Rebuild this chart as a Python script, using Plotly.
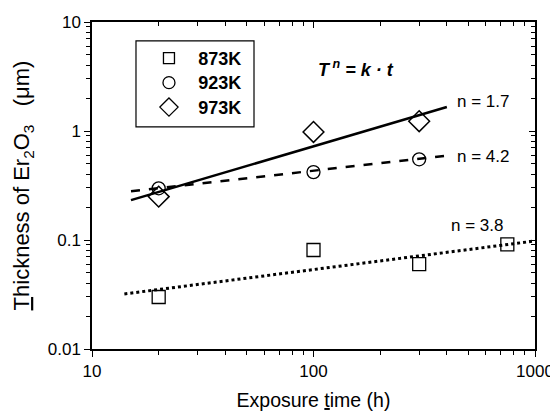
import plotly.graph_objects as go

# Data
time_873 = [20, 100, 300, 750]
thk_873 = [0.030, 0.081, 0.060, 0.091]
time_923 = [20, 100, 300]
thk_923 = [0.298, 0.42, 0.55]
time_973 = [20, 100, 300]
thk_973 = [0.25, 0.98, 1.23]

fit_973_t = [15, 400]
fit_973_y = [0.232, 1.66]
fit_923_t = [15, 390]
fit_923_y = [0.28, 0.59]
fit_873_t = [14, 1000]
fit_873_y = [0.032, 0.098]

legend_names = ["873K", "923K", "973K"]
legend_symbols = ["square-open", "circle-open", "diamond-open"]
legend_sizes = [11, 12, 14]

FONT = "Liberation Sans, Arial, sans-serif"

fig = go.Figure()

fig.add_trace(go.Scatter(x=fit_973_t, y=fit_973_y, mode="lines",
                         line=dict(color="black", width=2.5), showlegend=False))
fig.add_trace(go.Scatter(x=fit_923_t, y=fit_923_y, mode="lines",
                         line=dict(color="black", width=2.5, dash="dash"), showlegend=False))
fig.add_trace(go.Scatter(x=fit_873_t, y=fit_873_y, mode="lines",
                         line=dict(color="black", width=3, dash="dot"), showlegend=False))

fig.add_trace(go.Scatter(x=time_873, y=thk_873, mode="markers", showlegend=False,
                         marker=dict(symbol="square-open", size=13, color="black",
                                     line=dict(width=1.3))))
fig.add_trace(go.Scatter(x=time_923, y=thk_923, mode="markers", showlegend=False,
                         marker=dict(symbol="circle-open", size=13, color="black",
                                     line=dict(width=1.3))))
fig.add_trace(go.Scatter(x=time_973, y=thk_973, mode="markers", showlegend=False,
                         marker=dict(symbol="diamond-open", size=16, color="black",
                                     line=dict(width=1.5))))

# legend entries
for i, (nm, sym, sz) in enumerate(zip(legend_names, legend_symbols, legend_sizes)):
    fig.add_trace(go.Scatter(x=[None], y=[None], mode="markers",
                             name="&nbsp;&nbsp;<span style='font-size:18px'><b>" + nm + "</b></span>",
                             legendgroup="g%d" % i,
                             marker=dict(symbol=sym, size=sz, color="black",
                                         line=dict(width=1.3))))

axis_common = dict(type="log", showgrid=False, zeroline=False, showline=True,
                   linecolor="black", linewidth=1.5, tickcolor="black",
                   tickwidth=1.2, automargin=False)

minor_out = dict(ticks="outside", ticklen=4, dtick="D1", tickcolor="black", tickwidth=1.2)
minor_in = dict(ticks="inside", ticklen=4, dtick="D1", tickcolor="black", tickwidth=1.2)

# page body has an 8px margin: figure is sized/margined to compensate
fig.update_layout(
    width=550, height=403,
    margin=dict(l=84, r=23, t=14, b=62),
    paper_bgcolor="white", plot_bgcolor="white",
    font=dict(family=FONT, size=17, color="black"),
    xaxis=dict(**axis_common, range=[1, 3], ticks="outside", ticklen=6,
               tickvals=[10, 100, 1000], ticktext=["10", "100", "1000"],
               tickfont=dict(size=17), minor=minor_out,
               title=dict(text="Exposure <u>t</u>ime (h)", font=dict(size=19.5), standoff=22)),
    yaxis=dict(**axis_common, range=[-2, 1], ticks="outside", ticklen=6,
               tickvals=[0.01, 0.1, 1, 10], ticktext=["0.01", "0.1", "1", "10"],
               tickfont=dict(size=17), minor=minor_out,
               title=dict(text="<u>T</u>hickness of Er<sub>2</sub>O<sub>3</sub>&nbsp;&nbsp;&nbsp;(μm)",
                          font=dict(size=22), standoff=12)),
    xaxis2=dict(**axis_common, range=[1, 3], overlaying="x", side="top", anchor="y",
                ticks="inside", ticklen=6, tickvals=[10, 100, 1000], showticklabels=False,
                minor=minor_in),
    yaxis2=dict(**axis_common, range=[-2, 1], overlaying="y", side="right", anchor="x",
                ticks="inside", ticklen=6, tickvals=[0.01, 0.1, 1, 10], showticklabels=False,
                minor=minor_in),
    legend=dict(x=0.1286, y=0.942, xanchor="left", yanchor="top",
                bgcolor="rgba(0,0,0,0)", borderwidth=0,
                font=dict(size=16.5, family=FONT), itemwidth=30, tracegroupgap=0),
    shapes=[
        # legend frame
        dict(type="rect", xref="paper", yref="paper", x0=0.0993, x1=0.3657,
             y0=0.679, y1=0.942, line=dict(color="black", width=1.2),
             fillcolor="white", layer="below"),
    ],
    annotations=[
        dict(x=2.19, y=0.57, xref="x", yref="y", text="<b><i>T<sup> n</sup> = k · t</i></b>",
             showarrow=False, xanchor="center", font=dict(size=18)),
        dict(x=2.64, y=0.27, xref="x", yref="y", text="n = 1.7", showarrow=False,
             xanchor="left", font=dict(size=17)),
        dict(x=2.64, y=-0.23, xref="x", yref="y", text="n = 4.2", showarrow=False,
             xanchor="left", font=dict(size=17)),
        dict(x=2.61, y=-0.87, xref="x", yref="y", text="n = 3.8", showarrow=False,
             xanchor="left", font=dict(size=17)),
    ],
)

# dummy trace to activate secondary axes
fig.add_trace(go.Scatter(x=[10], y=[1], xaxis="x2", yaxis="y2", mode="markers",
                         marker=dict(opacity=0), showlegend=False, hoverinfo="skip"))

fig.write_html("out.html")
